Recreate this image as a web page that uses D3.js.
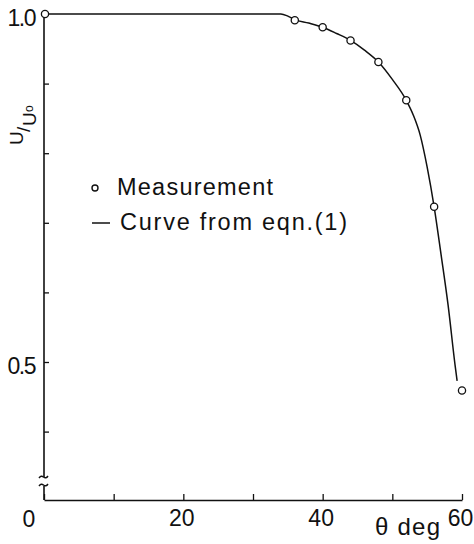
<!DOCTYPE html>
<html>
<head>
<meta charset="utf-8">
<script src="https://cdn.jsdelivr.net/npm/d3@7"></script>
<style>
  html, body { margin: 0; padding: 0; background: #fff; }
  svg { display: block; }
  text { font-family: "Liberation Sans", Arial, sans-serif; fill: #111; }
</style>
</head>
<body>
<svg id="chart" width="474" height="544"></svg>
<script>
// ---- data ----
const measTheta = [0, 36, 40, 44, 48, 52, 56, 60];
const measU     = [1.0, 0.991, 0.981, 0.962, 0.931, 0.876, 0.723, 0.459];

const curveTheta = [0, 30, 34, 35, 36, 38, 40, 42, 44, 46, 48, 50, 52, 53, 54, 55, 56, 57, 58, 59, 59.3];
const curveU     = [1.0, 1.0, 1.0, 0.997, 0.992, 0.987, 0.981, 0.972, 0.962, 0.948, 0.931, 0.906, 0.876, 0.855, 0.826, 0.780, 0.723, 0.654, 0.582, 0.496, 0.473];

const xTicks = [0, 10, 20, 30, 40, 50, 60];
const xTickLabels = [20, 40, 60];
const yTicks = [0.4, 0.5, 0.6, 0.7, 0.8, 0.9, 1.0];
const yTickLabels = [0.5, 1.0];
const legendLabels = ["Measurement", "Curve from eqn.(1)"];

// ---- scales ----
const svg = d3.select("#chart");
const x = d3.scaleLinear().domain([0, 60]).range([44, 462]);
const y = d3.scaleLinear().domain([0.5, 1.0]).range([362, 14]);
const axisY = 500;       // x-axis position
const breakTop = 477, breakBot = 486;

// ---- x axis ----
const xAxis = d3.axisBottom(x)
  .tickValues(xTicks)
  .tickSizeInner(-6)
  .tickSizeOuter(0)
  .tickPadding(10)
  .tickFormat(d => xTickLabels.includes(d) ? d3.format("d")(d) : "");
const gx = svg.append("g").attr("transform", `translate(0,${axisY})`).call(xAxis);
gx.select(".domain").attr("stroke", "#111").attr("stroke-width", 1.6);
gx.selectAll(".tick line").attr("stroke", "#111").attr("stroke-width", 1.3);
gx.selectAll(".tick text").attr("font-size", 23).attr("dx", -2)
  .attr("font-family", '"Liberation Sans", Arial, sans-serif').attr("fill", "#111");
// origin label
svg.append("text").attr("x", x(0) - 15).attr("y", 527)
  .attr("text-anchor", "middle").attr("font-size", 23).text("0");

// x axis title
svg.append("text").attr("x", 375).attr("y", 535).attr("font-size", 24)
  .attr("textLength", 65).attr("lengthAdjust", "spacing").text("θ deg");

// ---- y axis ----
const yAxis = d3.axisLeft(y)
  .tickValues(yTicks)
  .tickSizeInner(-5)
  .tickSizeOuter(0)
  .tickPadding(9)
  .tickFormat(d => yTickLabels.includes(d) ? d3.format(".1f")(d) : "");
const gy = svg.append("g").attr("transform", `translate(${x(0)},0)`).call(yAxis);
gy.select(".domain").remove();
gy.selectAll(".tick line").attr("stroke", "#111").attr("stroke-width", 1.3);
gy.selectAll(".tick text").attr("font-size", 23).attr("dy", "0.5em").attr("letter-spacing", -1.5)
  .attr("font-family", '"Liberation Sans", Arial, sans-serif').attr("fill", "#111");

// y axis line with break
svg.append("line").attr("x1", x(0)).attr("x2", x(0)).attr("y1", y(1.0)).attr("y2", breakTop)
  .attr("stroke", "#111").attr("stroke-width", 1.6);
svg.append("line").attr("x1", x(0)).attr("x2", x(0)).attr("y1", breakBot).attr("y2", axisY)
  .attr("stroke", "#111").attr("stroke-width", 1.6);
[breakTop, breakBot - 1].forEach(by => {
  svg.append("path")
    .attr("d", `M${x(0) - 5},${by + 1} q2,-3 4.5,-1 t4.5,-1`)
    .attr("fill", "none").attr("stroke", "#111").attr("stroke-width", 1.4);
});

// y axis title U/U0 (rotated)
const yl = svg.append("g").attr("transform", "translate(23,145) rotate(-90)");
yl.append("text").attr("x", 0).attr("y", 0).attr("font-size", 19).text("U");
yl.append("text").attr("x", 13).attr("y", 7).attr("font-size", 19).text("/");
yl.append("text").attr("x", 19).attr("y", 13).attr("font-size", 19).text("U");
yl.append("text").attr("x", 33).attr("y", 10).attr("font-size", 12).text("o");

// ---- curve ----
const curveData = curveTheta.map((t, i) => [t, curveU[i]]);
const line = d3.line().x(d => x(d[0])).y(d => y(d[1])).curve(d3.curveMonotoneX);
svg.append("path").datum(curveData).attr("d", line)
  .attr("fill", "none").attr("stroke", "#111").attr("stroke-width", 1.5);

// ---- measurement points ----
const measData = measTheta.map((t, i) => [t, measU[i]]);
svg.append("g").selectAll("circle").data(measData).join("circle")
  .attr("cx", d => x(d[0]) + (d[0] === 0 ? 1 : 0)).attr("cy", d => y(d[1])).attr("r", 3.6)
  .attr("fill", "#fff").attr("stroke", "#111").attr("stroke-width", 1.3);

// ---- legend ----
svg.append("circle").attr("cx", 95).attr("cy", 188).attr("r", 3)
  .attr("fill", "#fff").attr("stroke", "#111").attr("stroke-width", 1.4);
svg.append("text").attr("x", 117).attr("y", 195).attr("font-size", 23.5)
  .attr("textLength", 156).attr("lengthAdjust", "spacing").text(legendLabels[0]);
svg.append("line").attr("x1", 92).attr("x2", 110).attr("y1", 223).attr("y2", 223)
  .attr("stroke", "#111").attr("stroke-width", 1.5);
svg.append("text").attr("x", 120).attr("y", 230).attr("font-size", 23.5)
  .attr("textLength", 227).attr("lengthAdjust", "spacing").text(legendLabels[1]);
</script>
</body>
</html>
